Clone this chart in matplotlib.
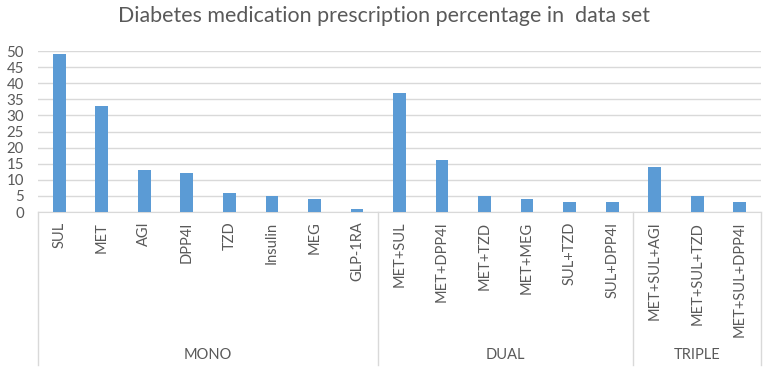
import numpy as np
import matplotlib
matplotlib.use('Agg')
import matplotlib.pyplot as plt
import matplotlib.transforms as mtransforms

# data
labels = ['SUL', 'MET', 'AGI', 'DPP4I', 'TZD', 'Insulin', 'MEG', 'GLP-1RA',
          'MET+SUL', 'MET+DPP4I', 'MET+TZD', 'MET+MEG', 'SUL+TZD', 'SUL+DPP4I',
          'MET+SUL+AGI', 'MET+SUL+TZD', 'MET+SUL+DPP4I']
values = [49, 33, 13, 12, 6, 5, 4, 1,
          37, 16, 5, 4, 3, 3,
          14, 5, 3]
groups = ['MONO', 'DUAL', 'TRIPLE']
group_sizes = [8, 6, 3]

plt.rcParams['font.family'] = ['Lato', 'DejaVu Sans']
txt = '#595959'
grid = '#d9d9d9'

fig = plt.figure(figsize=(7.67, 3.72), dpi=100)
ax = fig.add_axes([38/767, 1-212/372, (761-38)/767, 161/372])

x = np.arange(len(labels))
ax.bar(x, values, width=0.3, color='#5b9bd5', zorder=3)
ax.set_xlim(-0.5, len(labels) - 0.5)
ax.set_ylim(0, 50)
ax.set_yticks(range(0, 51, 5))
ax.yaxis.grid(True, color=grid, linewidth=1)
ax.set_axisbelow(True)
for s in ['top', 'right', 'left']:
    ax.spines[s].set_visible(False)
ax.spines['bottom'].set_color(grid)
ax.tick_params(axis='y', length=0, labelsize=10.8, labelcolor=txt, pad=10)
ax.set_xticks([])

trans = mtransforms.blended_transform_factory(ax.transData, ax.transAxes)
# category labels
for xi, lab in zip(x, labels):
    ax.text(xi, -0.06, lab, rotation=90, ha='center', va='top', fontsize=10.5,
            color=txt, transform=trans)

# group separators and labels
start = -0.5
bounds = [start]
for name, n in zip(groups, group_sizes):
    end = start + n
    ax.text((start + end) / 2, -0.89, name, ha='center', va='center', fontsize=10.5,
            color=txt, transform=trans)
    bounds.append(end)
    start = end
for b in bounds:
    ax.plot([b, b], [0, -0.95], color=grid, linewidth=1, transform=trans, clip_on=False)

fig.suptitle('Diabetes medication prescription percentage in  data set', y=0.985,
             fontsize=15.4, color=txt)

fig.savefig('out.png', dpi=100)
